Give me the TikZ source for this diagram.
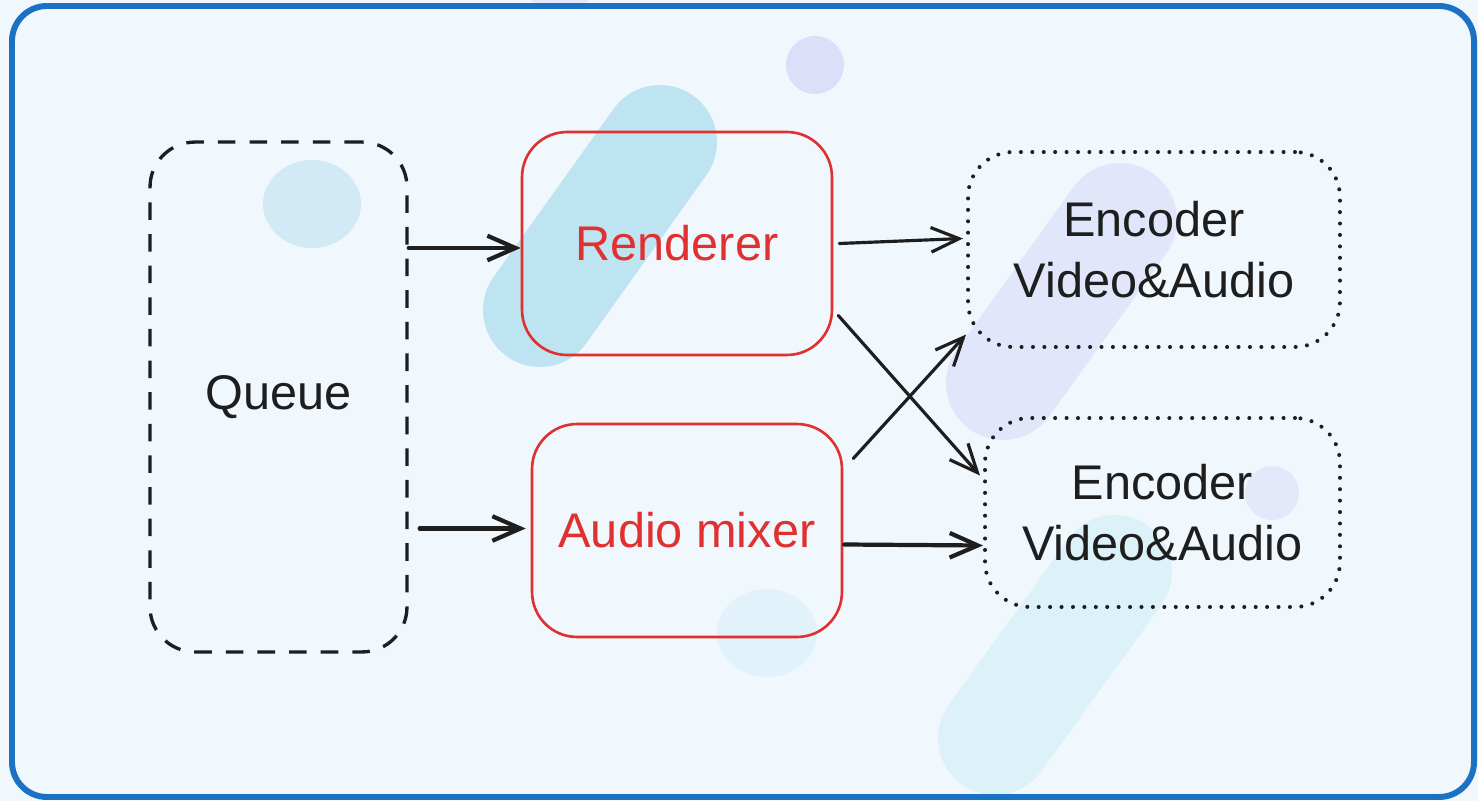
\documentclass[tikz,border=0pt]{standalone}
\usepackage{fontspec}
\setmainfont{Liberation Sans}
\usetikzlibrary{arrows.meta}
\definecolor{bgc}{HTML}{F0F8FD}
\definecolor{framec}{HTML}{1C72C2}
\definecolor{redc}{HTML}{E03131}
\definecolor{inkc}{HTML}{1E1E1E}
\definecolor{pillA}{HTML}{BEE3F1}
\definecolor{pillB}{HTML}{E1E6FA}
\definecolor{pillC}{HTML}{DDF1F8}
\definecolor{dotA}{HTML}{D1EAF5}
\definecolor{dotB}{HTML}{DCDFF8}
\definecolor{dotC}{HTML}{E3E8FA}
\definecolor{dotD}{HTML}{E2F2FA}
\tikzset{
  lbl/.style={font=\fontsize{27.7}{34.6}\selectfont, align=center},
  queuebox/.style={lbl, draw=inkc, text=inkc, line width=1.9pt, dash pattern=on 10pt off 8pt, rounded corners=0.9cm, inner sep=0pt},
  procbox/.style={lbl, draw=redc, text=redc, line width=1.5pt, rounded corners=0.9cm, inner sep=0pt},
  encbox/.style={lbl, draw=inkc, text=inkc, line width=2.3pt, line cap=round, dash pattern=on 0pt off 6.5pt, rounded corners=0.9cm, inner sep=0pt},
  arr/.style={draw=inkc, line width=1.8pt, line cap=round, -{Straight Barb[length=16pt,width=14pt]}},
  arrthick/.style={arr, line width=2.4pt},
  pill/.style={line width=2.28cm, line cap=round},
}
\begin{document}
\begin{tikzpicture}[x=0.02cm, y=-0.02cm]
\useasboundingbox (0,0) rectangle (1478,801);
\fill[bgc] (0,0) rectangle (1478,801);
% small blob above the frame
\fill[dotC] (560,-6) ellipse [x radius=32, y radius=14];
% decorative blobs
\begin{scope}
  \clip[rounded corners=0.7cm] (12,6) rectangle (1474,797);
  \draw[pill, pillA] (540,310) -- (660,142);
  \draw[pill, pillB] (1003,383) -- (1120,220);
  \draw[pill, pillC] (995,738) -- (1115,572);
  \fill[dotA] (312,204) ellipse [x radius=49, y radius=44];
  \fill[dotB] (815,65) circle [radius=29];
  \fill[dotC] (1272,493) circle [radius=27];
  \fill[dotD] (767,633) ellipse [x radius=50, y radius=44];
\end{scope}
% frame
\draw[framec, line width=3.4pt, rounded corners=0.7cm] (12,6) rectangle (1474,797);
% nodes
\node[queuebox, minimum width=5.14cm, minimum height=10.2cm] (q) at (278.5,397) {Queue};
\node[procbox, minimum width=6.2cm, minimum height=4.46cm] (r) at (677,243.5) {Renderer};
\node[procbox, minimum width=6.2cm, minimum height=4.26cm] (am) at (687,530.5) {Audio mixer};
\node[encbox, minimum width=7.44cm, minimum height=3.9cm] (e1) at (1154,249.5) {Encoder\\Video\&Audio};
\node[encbox, minimum width=7.1cm, minimum height=3.78cm] (e2) at (1162.5,512.5) {Encoder\\Video\&Audio};
% connectors
\draw[arrthick] ([yshift=-0.09cm]q.east |- r.west) -- ([yshift=-0.09cm]r.west);
\draw[arrthick] ([shift={(11,-2)}]q.east |- am.west) -- ([shift={(-5,-2)}]am.west);
\draw[arr] ([shift={(6,0)}]r.east) -- ([shift={(-3,-11)}]e1.west);
\draw[arr] ([shift={(5,72)}]r.east) -- ([shift={(-3,-37)}]e2.west);
\draw[arr] ([shift={(10,-72)}]am.east) -- ([shift={(0,85)}]e1.west);
\draw[arrthick] ([shift={(1,14)}]am.east) -- ([shift={(0,33)}]e2.west);
\end{tikzpicture}
\end{document}
